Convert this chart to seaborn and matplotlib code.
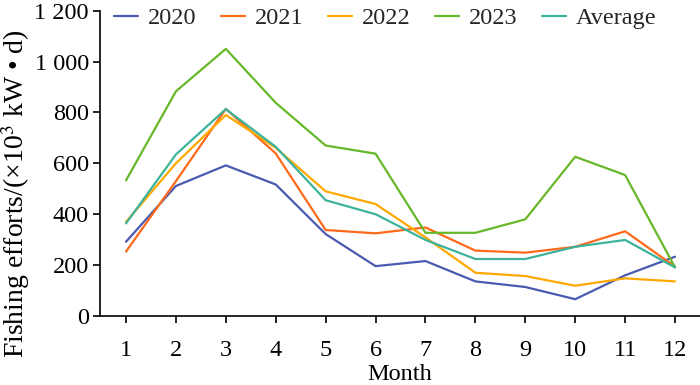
import matplotlib
matplotlib.use("Agg")
import matplotlib.pyplot as plt
import seaborn as sns
import pandas as pd
from matplotlib.ticker import FuncFormatter

months = [1, 2, 3, 4, 5, 6, 7, 8, 9, 10, 11, 12]
y2020 = [292, 511, 592, 517, 322, 196, 216, 136, 114, 66, 160, 233]
y2021 = [253, 530, 814, 639, 338, 325, 348, 257, 249, 272, 333, 194]
y2022 = [370, 600, 790, 661, 490, 440, 309, 170, 157, 119, 148, 136]
y2023 = [533, 883, 1050, 838, 670, 638, 327, 327, 380, 626, 554, 191]
yavg = [364, 635, 813, 665, 455, 400, 299, 224, 224, 272, 299, 191]
series_names = ["2020", "2021", "2022", "2023", "Average"]
colors = ["#4A5AB0", "#FF6A1A", "#FFA800", "#66B82A", "#3CB39A"]

frames = []
for name, vals in zip(series_names, [y2020, y2021, y2022, y2023, yavg]):
    frames.append(pd.DataFrame({"Month": months, "Value": vals, "Series": name}))
df = pd.concat(frames, ignore_index=True)

sns.set_theme(style="ticks")
plt.rcParams["font.family"] = ["Liberation Serif", "DejaVu Serif"]
plt.rcParams["mathtext.fontset"] = "stix"

fig = plt.figure(figsize=(7, 3.85), dpi=100)
ax = fig.add_axes([100 / 700, 1 - 316 / 385, 600 / 700, (316 - 10.7) / 385])

sns.lineplot(data=df, x="Month", y="Value", hue="Series", palette=colors,
             hue_order=series_names, linewidth=1.6, ax=ax, legend=True)

ax.set_xlim(0.479, 12.5)
ax.set_ylim(0, 1200)
ax.set_xticks(months)
ax.set_yticks([0, 200, 400, 600, 800, 1000, 1200])
ax.yaxis.set_major_formatter(FuncFormatter(lambda v, p: f"{int(v):,}".replace(",", " ")))
for s in ["top", "right"]:
    ax.spines[s].set_visible(False)
for s in ["left", "bottom"]:
    ax.spines[s].set_color("black")
    ax.spines[s].set_linewidth(1.2)
ax.tick_params(axis="both", direction="out", length=5, width=1.2, color="black",
               labelsize=17.5, labelcolor="black")
ax.tick_params(axis="x", pad=12)
ax.tick_params(axis="y", pad=3)

ax.set_xlabel("Month", fontsize=17.5, color="black", labelpad=2.5)
ax.set_ylabel("Fishing efforts/(×10$^3$ kW • d)", fontsize=20, color="black")
ax.yaxis.set_label_coords(-0.113, 0.40)

handles, labels = ax.get_legend_handles_labels()
ax.legend(handles, labels, loc="upper left", bbox_to_anchor=(114 / 700, 1 - 7 / 385),
          bbox_transform=fig.transFigure, ncol=5, frameon=False, fontsize=17.5,
          handlelength=1.0, handletextpad=0.4, columnspacing=1.0, borderaxespad=0,
          borderpad=0)

fig.savefig("out.png", dpi=100)
